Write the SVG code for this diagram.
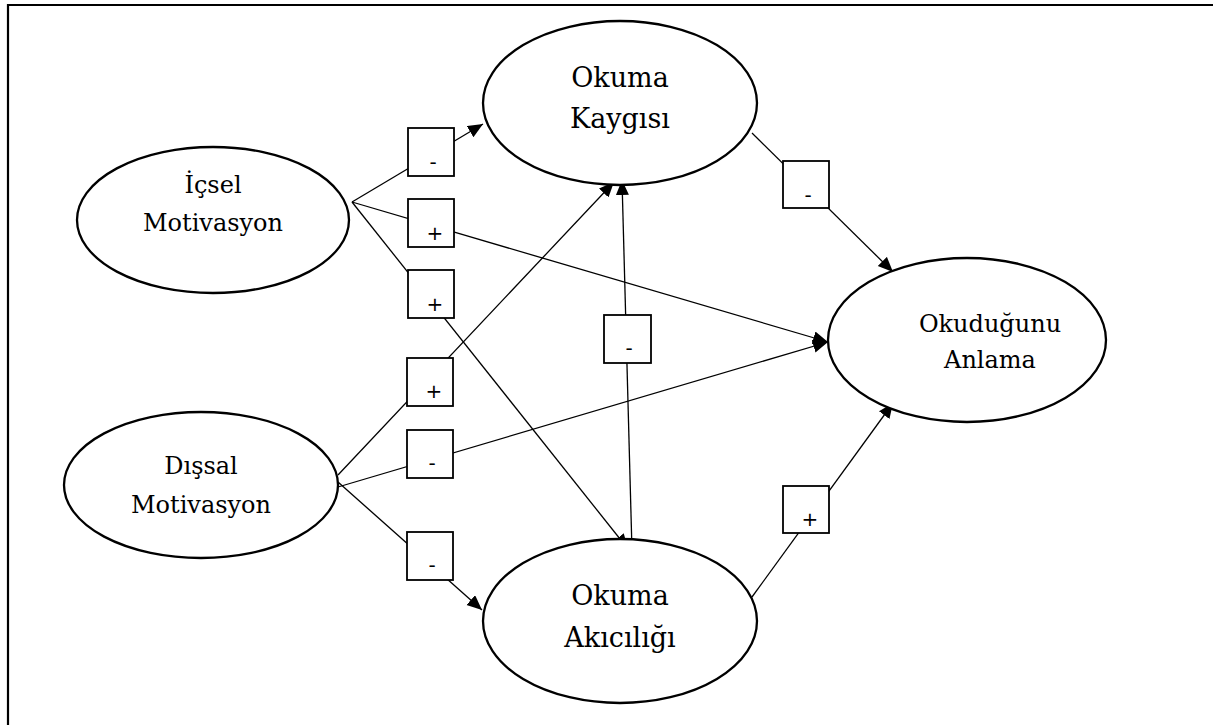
<svg xmlns="http://www.w3.org/2000/svg" width="1213" height="725" viewBox="0 0 1213 725">
  <defs>
    <marker id="arrow" markerUnits="userSpaceOnUse" markerWidth="16" markerHeight="14" refX="15" refY="6.5" orient="auto">
      <path d="M0,0 L15,6.5 L0,13 z" fill="#000"/>
    </marker>
    <style>
      .node { fill: #fff; stroke: #000; stroke-width: 2.3; }
      .conn { stroke: #000; stroke-width: 1.3; fill: none; marker-end: url(#arrow); }
      .lbl { fill: #fff; stroke: #000; stroke-width: 1.8; }
      .ntext { font-family: "DejaVu Serif", "Liberation Serif", serif; fill: #000; text-anchor: middle; }
      .ltext { font-family: "DejaVu Sans", "Liberation Sans", sans-serif; font-size: 20px; fill: #000; text-anchor: middle; }
    </style>
  </defs>
  <rect width="1213" height="725" fill="#fff"/>
  <path d="M8,725 L8,5 L1213,5" fill="none" stroke="#000" stroke-width="2.2"/>

  <g id="connectors">
    <line class="conn" x1="352" y1="202" x2="483" y2="124"/>
    <line class="conn" x1="352" y1="202" x2="828" y2="342"/>
    <line class="conn" x1="352" y1="202" x2="628" y2="549"/>
    <line class="conn" x1="338" y1="475" x2="614" y2="182"/>
    <line class="conn" x1="338" y1="487" x2="828" y2="342"/>
    <line class="conn" x1="338" y1="482" x2="482" y2="610"/>
    <line class="conn" x1="752" y1="133" x2="893" y2="272"/>
    <line class="conn" x1="752" y1="597" x2="893" y2="403"/>
    <line class="conn" x1="632" y1="551" x2="622" y2="180"/>
  </g>

  <g id="labels">
    <g id="lbl-1"><rect class="lbl" x="408" y="128" width="46" height="48"/><text class="ltext" x="433" y="169">-</text></g>
    <g id="lbl-2"><rect class="lbl" x="408" y="199" width="46" height="48"/><text class="ltext" x="435" y="240">+</text></g>
    <g id="lbl-3"><rect class="lbl" x="408" y="270" width="46" height="48"/><text class="ltext" x="435" y="311">+</text></g>
    <g id="lbl-4"><rect class="lbl" x="407" y="358" width="46" height="48"/><text class="ltext" x="434" y="398">+</text></g>
    <g id="lbl-5"><rect class="lbl" x="407" y="430" width="46" height="48"/><text class="ltext" x="432" y="470">-</text></g>
    <g id="lbl-6"><rect class="lbl" x="407" y="532" width="46" height="48"/><text class="ltext" x="432" y="572">-</text></g>
    <g id="lbl-7"><rect class="lbl" x="604" y="315" width="47" height="48"/><text class="ltext" x="629" y="355">-</text></g>
    <g id="lbl-8"><rect class="lbl" x="783" y="161" width="46" height="47"/><text class="ltext" x="808" y="202">-</text></g>
    <g id="lbl-9"><rect class="lbl" x="783" y="486" width="46" height="47"/><text class="ltext" x="810" y="526">+</text></g>
  </g>

  <g id="icsel">
    <ellipse class="node" cx="213" cy="220" rx="136" ry="73"/>
    <text class="ntext" font-size="24" x="213" y="193">İçsel</text>
    <text class="ntext" font-size="24" x="213" y="231">Motivasyon</text>
  </g>
  <g id="dissal">
    <ellipse class="node" cx="201" cy="485" rx="137" ry="73"/>
    <text class="ntext" font-size="24" x="201" y="474">Dışsal</text>
    <text class="ntext" font-size="24" x="201" y="513">Motivasyon</text>
  </g>
  <g id="kaygi">
    <ellipse class="node" cx="620" cy="103" rx="137" ry="82"/>
    <text class="ntext" font-size="27" x="620" y="87">Okuma</text>
    <text class="ntext" font-size="27" x="620" y="128">Kaygısı</text>
  </g>
  <g id="akicilik">
    <ellipse class="node" cx="620" cy="621" rx="137" ry="82"/>
    <text class="ntext" font-size="27" x="620" y="605">Okuma</text>
    <text class="ntext" font-size="27" x="620" y="647">Akıcılığı</text>
  </g>
  <g id="anlama">
    <ellipse class="node" cx="967" cy="340" rx="139" ry="82"/>
    <text class="ntext" font-size="24" x="990" y="332">Okuduğunu</text>
    <text class="ntext" font-size="24" x="990" y="368">Anlama</text>
  </g>
</svg>
